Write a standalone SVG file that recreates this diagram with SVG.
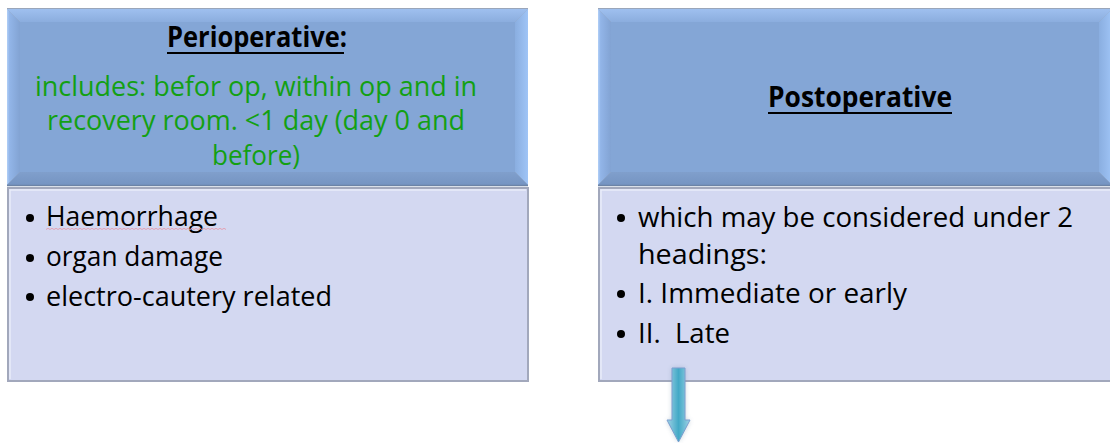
<svg xmlns="http://www.w3.org/2000/svg" width="1110" height="443" viewBox="0 0 1110 443">
<style>
.txt{font-family:"Open Sans","Liberation Sans",sans-serif;font-size:27.5px;fill:#000}
.title{font-family:"Open Sans","Liberation Sans",sans-serif;font-size:28px;font-weight:bold;fill:#000}
.green{fill:#13a013}
.face{fill:#84a6d6}
.bt{fill:url(#gTop)}
.bl{fill:url(#gLeft)}
.br{fill:url(#gRight)}
.bb{fill:url(#gBot)}
.body{fill:#d3d8f1;stroke:#a2a8bc;stroke-width:2}
.hi{stroke:#e9ecf9;stroke-width:1.5;fill:none}
.ul{stroke:#000;stroke-width:2}
.bul{fill:#000}
</style>
<defs>
<linearGradient id="gTop" x1="0" y1="0" x2="0" y2="1"><stop offset="0" stop-color="#9fc0ef"/><stop offset="1" stop-color="#8badde"/></linearGradient>
<linearGradient id="gLeft" x1="0" y1="0" x2="1" y2="0"><stop offset="0" stop-color="#b2d0f8"/><stop offset="0.2" stop-color="#92b5e8"/><stop offset="1" stop-color="#82a3d3"/></linearGradient>
<linearGradient id="gRight" x1="0" y1="0" x2="1" y2="0"><stop offset="0" stop-color="#8aaee0"/><stop offset="1" stop-color="#9fc4f6"/></linearGradient>
<linearGradient id="gBot" x1="0" y1="0" x2="0" y2="1"><stop offset="0" stop-color="#809fcc"/><stop offset="1" stop-color="#7594c2"/></linearGradient>
<linearGradient id="gArrow" x1="0" y1="0" x2="1" y2="0"><stop offset="0" stop-color="#9fd2e6"/><stop offset="0.5" stop-color="#43a9c6"/><stop offset="1" stop-color="#9fd2e6"/></linearGradient>
<filter id="glow" x="-1" y="-0.3" width="3" height="1.6"><feGaussianBlur stdDeviation="2.5"/></filter>
</defs>

<g id="node-perioperative">
  <rect x="7" y="8" width="521" height="178" fill="#9aa6ba"/>
  <polygon class="bt" points="7,9 528,9 515,22 20,22"/>
  <polygon class="bl" points="7,9 20,22 20,172 7,185"/>
  <polygon class="br" points="528,9 515,22 515,172 528,185"/>
  <polygon class="bb" points="7,185 20,172 515,172 528,185"/>
  <rect class="face" x="20" y="22" width="495" height="150"/>
  <line x1="7" y1="185.5" x2="528" y2="185.5" stroke="#6c83a6" stroke-width="1.5"/>
  <text class="title" x="257" y="47" text-anchor="middle" textLength="180" lengthAdjust="spacingAndGlyphs">Perioperative:</text>
  <line class="ul" x1="167" y1="53" x2="344" y2="53"/>
  <text class="txt green" x="256" y="96" text-anchor="middle" textLength="442" lengthAdjust="spacingAndGlyphs">includes: befor op, within op and in</text>
  <text class="txt green" x="256" y="130" text-anchor="middle" textLength="418" lengthAdjust="spacingAndGlyphs">recovery room. &lt;1 day (day 0 and</text>
  <text class="txt green" x="256" y="165" text-anchor="middle" textLength="88" lengthAdjust="spacingAndGlyphs">before)</text>
  <rect class="body" x="8" y="188" width="520" height="193"/>
  <polyline class="hi" points="10,379 10,190 526,190"/>
  <circle class="bul" cx="30" cy="218" r="4"/>
  <circle class="bul" cx="30" cy="258" r="4"/>
  <circle class="bul" cx="30" cy="297" r="4"/>
  <text class="txt" x="46" y="226" textLength="172" lengthAdjust="spacingAndGlyphs">Haemorrhage</text>
  <path d="M46,229.5 l2,-1.2 l2,1.2 l2,-1.2 l2,1.2 l2,-1.2 l2,1.2 l2,-1.2 l2,1.2 l2,-1.2 l2,1.2 l2,-1.2 l2,1.2 l2,-1.2 l2,1.2 l2,-1.2 l2,1.2 l2,-1.2 l2,1.2 l2,-1.2 l2,1.2 l2,-1.2 l2,1.2 l2,-1.2 l2,1.2 l2,-1.2 l2,1.2 l2,-1.2 l2,1.2 l2,-1.2 l2,1.2 l2,-1.2 l2,1.2 l2,-1.2 l2,1.2 l2,-1.2 l2,1.2 l2,-1.2 l2,1.2 l2,-1.2 l2,1.2 l2,-1.2 l2,1.2 l2,-1.2 l2,1.2 l2,-1.2 l2,1.2 l2,-1.2 l2,1.2 l2,-1.2 l2,1.2 l2,-1.2 l2,1.2 l2,-1.2 l2,1.2 l2,-1.2 l2,1.2 l2,-1.2 l2,1.2 l2,-1.2 l2,1.2 l2,-1.2 l2,1.2 l2,-1.2 l2,1.2 l2,-1.2 l2,1.2 l2,-1.2 l2,1.2 l2,-1.2 l2,1.2 l2,-1.2 l2,1.2 l2,-1.2 l2,1.2 l2,-1.2 l2,1.2 l2,-1.2 l2,1.2 l2,-1.2 l2,1.2 l2,-1.2 l2,1.2 l2,-1.2 l2,1.2 l2,-1.2 l2,1.2 l2,-1.2 l2,1.2 l2,-1.2 l2,1.2" fill="none" stroke="#e3a2b4" stroke-width="1"/>
  <text class="txt" x="46" y="266" textLength="177" lengthAdjust="spacingAndGlyphs">organ damage</text>
  <text class="txt" x="46" y="306" textLength="286" lengthAdjust="spacingAndGlyphs">electro-cautery related</text>
</g>

<g id="node-postoperative">
  <rect x="598" y="8" width="514" height="178" fill="#9aa6ba"/>
  <polygon class="bt" points="598,9 1112,9 1099,22 611,22"/>
  <polygon class="bl" points="598,9 611,22 611,172 598,185"/>
  <polygon class="br" points="1112,9 1099,22 1099,172 1112,185"/>
  <polygon class="bb" points="598,185 611,172 1099,172 1112,185"/>
  <rect class="face" x="611" y="22" width="488" height="150"/>
  <line x1="598" y1="185.5" x2="1112" y2="185.5" stroke="#6c83a6" stroke-width="1.5"/>
  <text class="title" x="860" y="107" text-anchor="middle" textLength="184" lengthAdjust="spacingAndGlyphs">Postoperative</text>
  <line class="ul" x1="768" y1="113" x2="952" y2="113"/>
  <rect class="body" x="599" y="188" width="520" height="193"/>
  <polyline class="hi" points="601,379 601,190 1112,190"/>
  <circle class="bul" cx="621" cy="218" r="4"/>
  <circle class="bul" cx="621" cy="294" r="4"/>
  <circle class="bul" cx="621" cy="334" r="4"/>
  <text class="txt" x="638" y="227" textLength="435" lengthAdjust="spacingAndGlyphs">which may be considered under 2</text>
  <text class="txt" x="638" y="264" textLength="129" lengthAdjust="spacingAndGlyphs">headings:</text>
  <text class="txt" x="638" y="303" textLength="269" lengthAdjust="spacingAndGlyphs">I. Immediate or early</text>
  <text class="txt" x="638" y="343" textLength="92" lengthAdjust="spacingAndGlyphs" xml:space="preserve">II.  Late</text>
</g>

<g id="connectors">
  <polygon points="672,368 685,368 685,420 690,420 678.5,442 667,420 672,420" fill="#6f8fa8" opacity="0.45" filter="url(#glow)"/>
  <polygon points="672,368 685,368 685,420 690,420 678.5,442 667,420 672,420" fill="url(#gArrow)" stroke="#7c9fd0" stroke-width="1"/>
</g>
</svg>
